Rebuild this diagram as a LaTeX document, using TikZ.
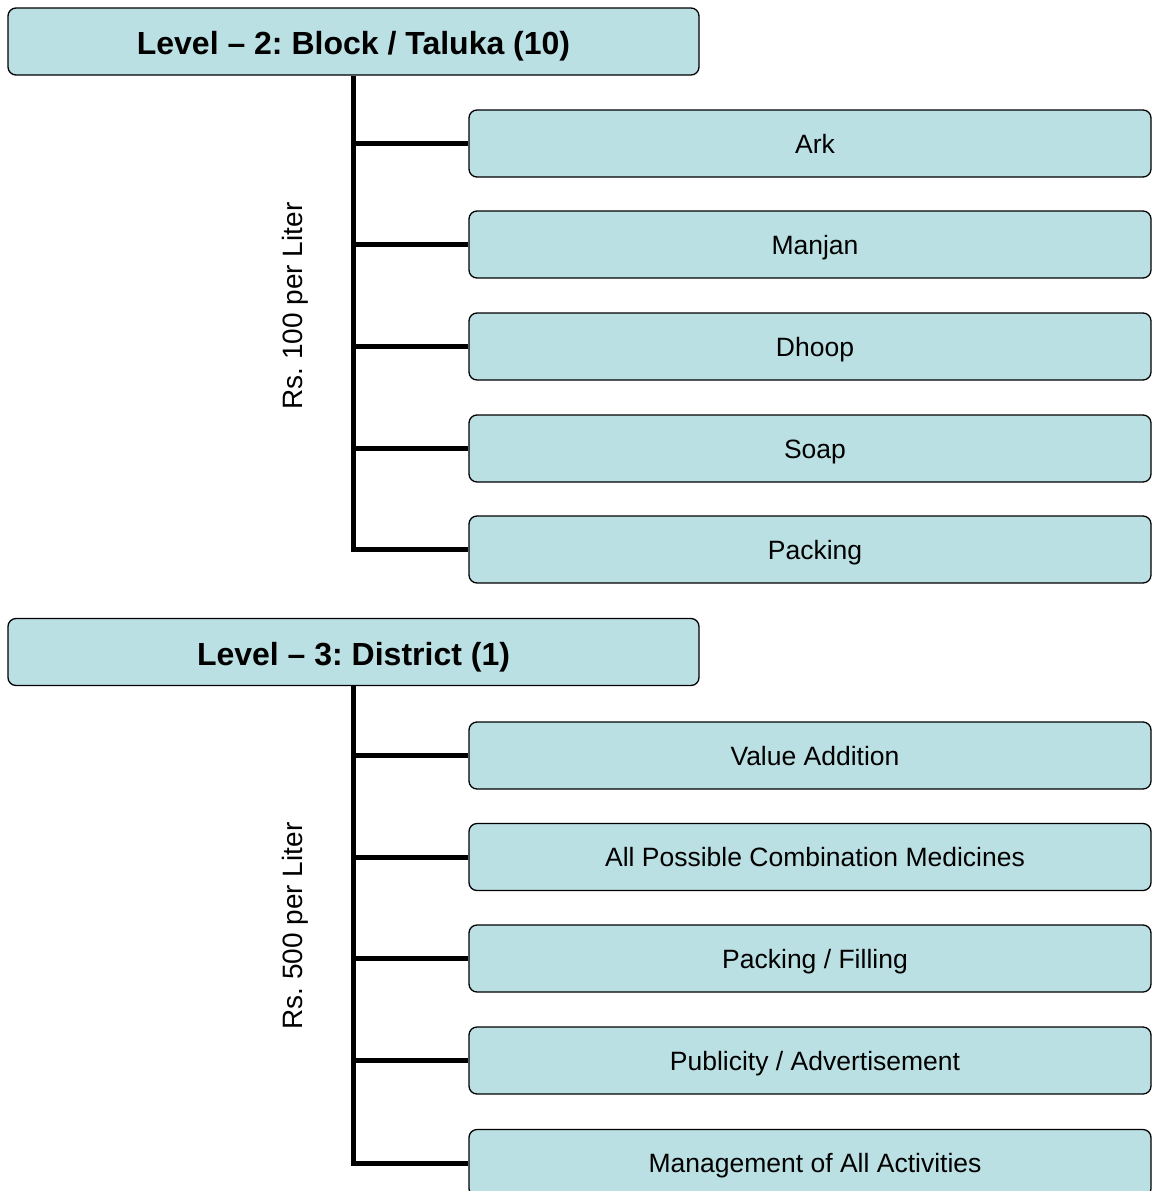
\documentclass[tikz,border=0pt]{standalone}
\usepackage{fontspec}
\setmainfont{Liberation Sans}
\usetikzlibrary{positioning, calc}
\definecolor{boxfill}{HTML}{BBE0E3}
\frenchspacing

\tikzset{
  levelbox/.style={draw=black, line width=1.3pt, fill=boxfill, rounded corners=8pt,
    minimum width=691pt, minimum height=67pt, inner sep=0pt,
    text height=26pt, text depth=0pt,
    font=\fontsize{32}{36}\selectfont\bfseries},
  taskbox/.style={draw=black, line width=1.3pt, fill=boxfill, rounded corners=8pt,
    minimum width=682pt, minimum height=67pt, inner sep=0pt,
    text height=19.5pt, text depth=0pt, execute at begin node=\hspace*{10pt},
    font=\fontsize{26.5}{30}\selectfont},
  trunk/.style={line width=5pt},
  ratelabel/.style={rotate=90, inner sep=0pt, font=\fontsize{28}{32}\selectfont},
}

\begin{document}
\begin{tikzpicture}[x=1pt, y=-1pt]
      \useasboundingbox (0, 0) rectangle (1152, 1191);

      % level 2
      \node[levelbox] (lvtwo) at (353.5, 41.5) {Level -- 2: Block / Taluka (10)};
      \foreach \name/\y/\txt in {ark/143.5/Ark, manjan/244.5/Manjan, dhoop/346.5/Dhoop,
          soap/448.5/Soap, packing/549.5/Packing}
        \node[taskbox] (\name) at (810, \y) {\txt};
      \node[ratelabel] (rateone) at (295, 306) {Rs. 100 per Liter};

      \draw[trunk] (lvtwo.south) |- (packing.west);
      \foreach \name in {ark, manjan, dhoop, soap}
        \draw[trunk] (lvtwo.south |- \name.west) -- (\name.west);

      % level 3
      \node[levelbox] (lvthree) at (353.5, 652) {Level -- 3: District (1)};
      \foreach \name/\y/\txt in {value/755.5/{Value Addition},
          combo/857/{All Possible Combination Medicines},
          filling/958.5/{Packing / Filling},
          publicity/1060.5/{Publicity / Advertisement},
          manage/1163/{Management of All Activities}}
        \node[taskbox] (\name) at (810, \y) {\txt};
      \node[ratelabel] (ratetwo) at (295, 926) {Rs. 500 per Liter};

      \draw[trunk] (lvthree.south) |- (manage.west);
      \foreach \name in {value, combo, filling, publicity}
        \draw[trunk] (lvthree.south |- \name.west) -- (\name.west);

    \end{tikzpicture}
\end{document}
